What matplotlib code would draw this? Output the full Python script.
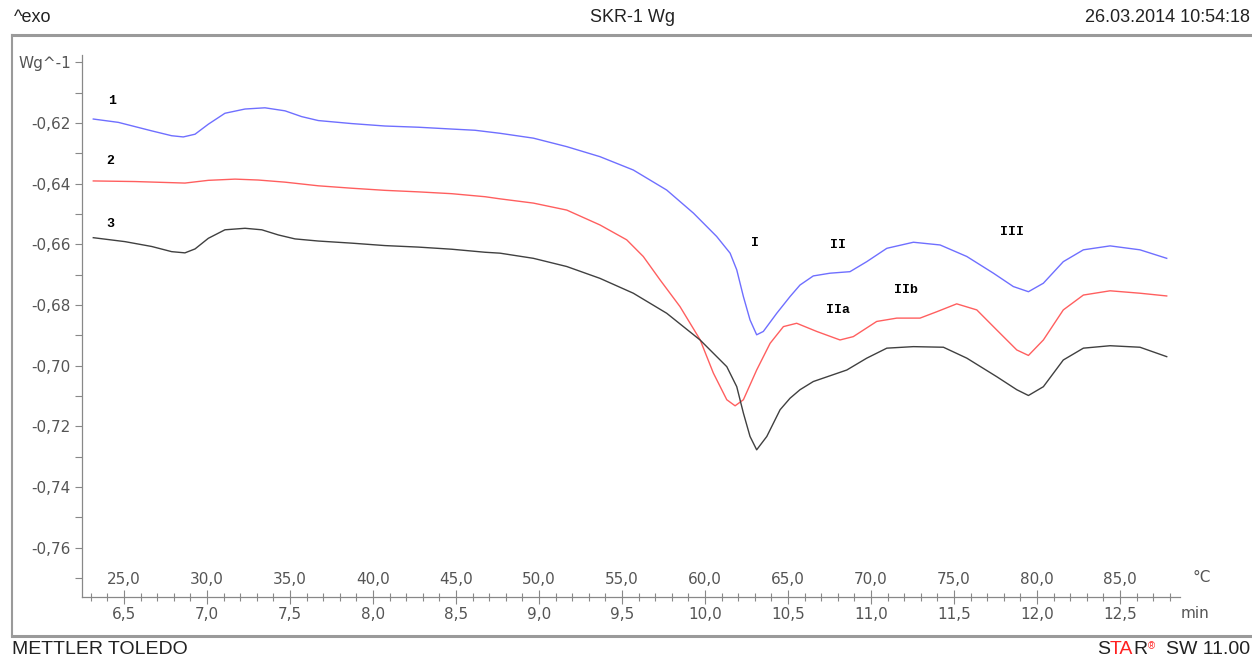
import matplotlib
matplotlib.use("Agg")
import matplotlib.pyplot as plt
import matplotlib.ticker as mticker
from matplotlib.lines import Line2D
import numpy as np

# curve 1 (blue), time in min / heat flow in W/g
t1 = [6.315, 6.466, 6.667, 6.787, 6.857, 6.928, 7.008, 7.108, 7.229, 7.349, 7.470, 7.570,
      7.670, 7.872, 8.072, 8.273, 8.474, 8.614, 8.765, 8.966, 9.167, 9.367, 9.568, 9.769,
      9.930, 10.070, 10.151, 10.191, 10.231, 10.271, 10.311, 10.351, 10.432, 10.512, 10.572,
      10.652, 10.753, 10.873, 10.974, 11.095, 11.255, 11.416, 11.577, 11.737, 11.857, 11.948,
      12.038, 12.158, 12.279, 12.440, 12.620, 12.781]
v1 = [-0.6187, -0.6198, -0.6226, -0.6242, -0.6246, -0.6237, -0.6204, -0.6168, -0.6154, -0.6150,
      -0.6160, -0.6179, -0.6192, -0.6202, -0.6210, -0.6214, -0.6220, -0.6224, -0.6234, -0.6250,
      -0.6278, -0.6311, -0.6355, -0.6421, -0.6497, -0.6574, -0.6629, -0.6684, -0.6772, -0.6849,
      -0.6898, -0.6887, -0.6827, -0.6772, -0.6734, -0.6704, -0.6695, -0.6690, -0.6657, -0.6613,
      -0.6593, -0.6602, -0.6640, -0.6695, -0.6739, -0.6756, -0.6728, -0.6657, -0.6618, -0.6605,
      -0.6618, -0.6646]

# curve 2 (red)
t2 = [6.315, 6.566, 6.867, 7.008, 7.169, 7.309, 7.470, 7.670, 7.872, 8.072, 8.273, 8.474,
      8.675, 8.765, 8.966, 9.167, 9.367, 9.528, 9.628, 9.729, 9.849, 9.970, 10.050, 10.131,
      10.181, 10.231, 10.311, 10.392, 10.472, 10.552, 10.673, 10.813, 10.893, 11.034, 11.155,
      11.295, 11.396, 11.516, 11.637, 11.757, 11.878, 11.948, 12.038, 12.158, 12.279, 12.440,
      12.620, 12.781]
v2 = [-0.6391, -0.6393, -0.6398, -0.6389, -0.6385, -0.6388, -0.6395, -0.6407, -0.6415, -0.6422,
      -0.6427, -0.6433, -0.6443, -0.6450, -0.6464, -0.6487, -0.6536, -0.6585, -0.6640, -0.6717,
      -0.6805, -0.6914, -0.7024, -0.7112, -0.7132, -0.7112, -0.7014, -0.6926, -0.6871, -0.6860,
      -0.6887, -0.6915, -0.6904, -0.6854, -0.6843, -0.6843, -0.6822, -0.6796, -0.6816, -0.6882,
      -0.6948, -0.6966, -0.6915, -0.6816, -0.6767, -0.6753, -0.6761, -0.6770]

# curve 3 (black)
t3 = [6.315, 6.506, 6.667, 6.787, 6.867, 6.928, 7.008, 7.108, 7.229, 7.330, 7.430, 7.530,
      7.670, 7.872, 8.072, 8.273, 8.474, 8.675, 8.765, 8.966, 9.167, 9.367, 9.568, 9.769,
      9.970, 10.131, 10.191, 10.231, 10.271, 10.311, 10.372, 10.452, 10.512, 10.572, 10.652,
      10.854, 10.974, 11.095, 11.255, 11.436, 11.577, 11.757, 11.878, 11.948, 12.038, 12.158,
      12.279, 12.440, 12.620, 12.781]
v3 = [-0.6578, -0.6591, -0.6607, -0.6624, -0.6628, -0.6615, -0.6580, -0.6552, -0.6547, -0.6552,
      -0.6569, -0.6582, -0.6589, -0.6596, -0.6604, -0.6609, -0.6616, -0.6626, -0.6629, -0.6646,
      -0.6673, -0.6712, -0.6761, -0.6827, -0.6915, -0.7003, -0.7069, -0.7156, -0.7233, -0.7277,
      -0.7233, -0.7145, -0.7107, -0.7079, -0.7052, -0.7014, -0.6975, -0.6942, -0.6937, -0.6939,
      -0.6975, -0.7036, -0.7079, -0.7098, -0.7069, -0.6981, -0.6942, -0.6934, -0.6939, -0.6970]

curve_names = ["1", "2", "3"]
curve_label_pos = [(6.428, -0.6128), (6.416, -0.6326), (6.416, -0.6534)]
peak_names = ["I", "II", "III", "IIa", "IIb"]
peak_pos = [(10.30, -0.6595), (10.80, -0.6602), (11.85, -0.6559), (10.80, -0.6816), (11.21, -0.6750)]

min_ticks = np.arange(6.5, 12.51, 0.5)
temp_ticks = np.arange(25, 85.1, 5)

header_left = "^exo"
header_mid = "SKR-1 Wg"
header_right = "26.03.2014 10:54:18"

W, H = 1252, 659
fig = plt.figure(figsize=(W / 100, H / 100), dpi=100)
gray = "#555555"

ax = fig.add_axes([82 / W, 1 - 597 / H, (1180 - 82) / W, (597 - 55) / H])
ax.plot(t1, v1, color="#6f6fff", lw=1.0)
ax.plot(t2, v2, color="#ff5f5f", lw=1.0)
ax.plot(t3, v3, color="#404040", lw=1.0)
ax.set_xlim(6.247, 12.861)
ax.set_ylim(-0.7762, -0.5976)

for s in ["top", "right"]:
    ax.spines[s].set_visible(False)
for s in ["left", "bottom"]:
    ax.spines[s].set_color("#888888")
    ax.spines[s].set_linewidth(0.9)

# y axis
ax.set_yticks(np.arange(-0.76, -0.5999, 0.02))
ax.yaxis.set_minor_locator(mticker.FixedLocator(np.arange(-0.77, -0.605, 0.02)))


def yfmt(v, pos):
    if abs(v + 0.60) < 1e-6:
        return "Wg^-1"
    return "{:.2f}".format(v).replace(".", ",")


ax.yaxis.set_major_formatter(mticker.FuncFormatter(yfmt))
ax.tick_params(axis="y", which="major", direction="out", length=5, width=0.8,
               color="#888888", labelsize=11, labelcolor=gray, pad=3)
ax.tick_params(axis="y", which="minor", direction="out", length=5, width=0.8, color="#888888")

# x axis: minutes below, temperature above
ax.set_xticks(min_ticks)
ax.xaxis.set_minor_locator(mticker.MultipleLocator(0.1))
ax.xaxis.set_major_formatter(mticker.FuncFormatter(lambda v, p: "{:.1f}".format(v).replace(".", ",")))
ax.tick_params(axis="x", which="major", direction="inout", length=10, width=0.8,
               color="#888888", labelsize=11, labelcolor=gray, pad=2)
ax.tick_params(axis="x", which="minor", direction="inout", length=6, width=0.8, color="#888888")

sec = ax.secondary_xaxis(0.0, functions=(lambda t: 25 + (t - 6.5) * 10, lambda T: 6.5 + (T - 25) / 10))
sec.set_alignment("top")
sec.set_xticks(temp_ticks)
sec.xaxis.set_major_formatter(mticker.FuncFormatter(lambda v, p: "{:.1f}".format(v).replace(".", ",")))
sec.tick_params(axis="x", length=0, labelsize=11, labelcolor=gray, pad=7)
for s in sec.spines.values():
    s.set_visible(False)

ax.text(1.020, 0.036, "°C", transform=ax.transAxes, fontsize=11, color=gray, ha="center", va="center")
ax.text(1.0137, -0.030, "min", transform=ax.transAxes, fontsize=11, color=gray, ha="center", va="center")

for name, (x, y) in zip(curve_names + peak_names, curve_label_pos + peak_pos):
    ax.text(x, y, name, fontsize=9.5, family="Liberation Mono", weight="bold", ha="center", va="center")

# frame around the plot
fig.add_artist(Line2D([12 / W, 1], [1 - 35 / H, 1 - 35 / H], color="#9a9a9a", lw=2.2))
fig.add_artist(Line2D([12 / W, 12 / W], [1 - 35 / H, 1 - 636 / H], color="#9a9a9a", lw=1.5))
fig.add_artist(Line2D([12 / W, 1], [1 - 636 / H, 1 - 636 / H], color="#9a9a9a", lw=2.2))

# header and footer
hfont = dict(family="Liberation Sans", fontsize=13, color="#222222")
fig.text(14 / W, 1 - 18 / H, header_left, ha="left", va="center", **hfont)
fig.text(632 / W, 1 - 18 / H, header_mid, ha="center", va="center", **hfont)
fig.text(1250 / W, 1 - 18 / H, header_right, ha="right", va="center", **hfont)
fig.text(12 / W, 1 - 650 / H, "METTLER TOLEDO", ha="left", va="center",
         family="Liberation Sans", fontsize=14, color="#222222")

ffont = dict(family="Liberation Sans", fontsize=14)
fig.text(1250 / W, 1 - 650 / H, "SW 11.00", ha="right", va="center", color="#222222", **ffont)
t = fig.text(1097 / W, 1 - 650 / H, "S", ha="left", va="center", color="#222222", **ffont)
t = ax.annotate("TA", xy=(1, 0), xycoords=t, va="bottom", ha="left", color="#ff2020",
                annotation_clip=False, **ffont)
r = ax.annotate("R", xy=(1, 0), xycoords=t, va="bottom", ha="left", color="#222222",
                annotation_clip=False, **ffont)
ax.annotate("®", xy=(1, 0.45), xycoords=r, va="bottom", ha="left", color="#ff2020",
            family="Liberation Sans", fontsize=7, annotation_clip=False)

fig.savefig("out.png", dpi=100)
